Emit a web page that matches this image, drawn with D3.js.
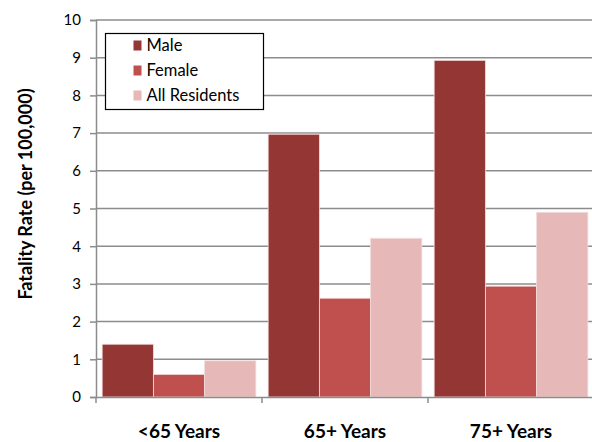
<!DOCTYPE html>
<html>
<head>
<meta charset="utf-8">
<script src="https://cdn.jsdelivr.net/npm/d3@7"></script>
<style>
  html, body { margin: 0; padding: 0; background: #fff; }
  svg { display: block; font-family: Lato, "Open Sans", sans-serif; }
</style>
</head>
<body>
<div id="chart"></div>
<script>
const categories = ['<65 Years', '65+ Years', '75+ Years'];
const seriesNames = ['Male', 'Female', 'All Residents'];
const maleValues = [1.4, 6.97, 8.93];
const femaleValues = [0.6, 2.62, 2.94];
const allValues = [0.96, 4.21, 4.9];
const yTicks = [0, 1, 2, 3, 4, 5, 6, 7, 8, 9, 10];

const colors = ['#943634', '#c0504d', '#e6b9b8'];
const width = 592;
const height = 442;

const series = [maleValues, femaleValues, allValues];

const svg = d3.select('#chart')
    .append('svg')
    .attr('width', width)
    .attr('height', height);

const x = d3.scaleBand()
    .domain(categories)
    .range([96, 594])
    .paddingInner(0)
    .paddingOuter(0);

const y = d3.scaleLinear()
    .domain([0, 10])
    .range([397, 20]);

// gridlines
svg.append('g')
    .selectAll('line')
    .data(yTicks.filter((t) => t > 0))
    .enter()
    .append('line')
    .attr('x1', 96)
    .attr('x2', width)
    .attr('y1', (d) => y(d))
    .attr('y2', (d) => y(d))
    .attr('stroke', '#8c8c8c')
    .attr('stroke-width', 1.5);

// bars
const inner = d3.scaleBand()
    .domain(seriesNames)
    .range([0, x.bandwidth()])
    .paddingOuter(0.12)
    .paddingInner(0);

categories.forEach((cat, ci) => {
    const g = svg.append('g').attr('transform', `translate(${x(cat)},0)`);
    g.selectAll('rect')
        .data(seriesNames.map((name, si) => ({ name, value: series[si][ci], color: colors[si] })))
        .enter()
        .append('rect')
        .attr('x', (d) => inner(d.name))
        .attr('width', inner.bandwidth())
        .attr('y', (d) => y(d.value))
        .attr('height', (d) => y(0) - y(d.value))
        .attr('fill', (d) => d.color)
        .attr('stroke', '#f2dcdb')
        .attr('stroke-width', 0.8);
});

// y axis
const yAxis = svg.append('g')
    .attr('transform', 'translate(96,0)')
    .call(d3.axisLeft(y).tickValues(yTicks).tickSize(6).tickPadding(9));
yAxis.select('.domain').attr('stroke', '#8c8c8c').attr('stroke-width', 1.5);
yAxis.selectAll('.tick line').attr('stroke', '#8c8c8c').attr('stroke-width', 1.5);
yAxis.selectAll('.tick text')
    .attr('fill', '#000')
    .style('font-size', '15px')
    .style('font-family', 'Lato, "Open Sans", sans-serif');

// x axis
const xAxis = svg.append('g')
    .attr('transform', `translate(0,${y(0)})`)
    .call(d3.axisBottom(x).tickSize(0).tickPadding(28));
xAxis.select('.domain').attr('stroke', '#8c8c8c').attr('stroke-width', 1.5);
xAxis.selectAll('.tick text')
    .attr('fill', '#000')
    .style('font-size', '19px')
    .style('font-weight', 'bold')
    .style('font-family', 'Lato, "Open Sans", sans-serif');

// category boundary ticks
svg.append('g')
    .selectAll('line')
    .data(categories)
    .enter()
    .append('line')
    .attr('x1', (d) => x(d))
    .attr('x2', (d) => x(d))
    .attr('y1', y(0))
    .attr('y2', y(0) + 6)
    .attr('stroke', '#8c8c8c')
    .attr('stroke-width', 1.5);

// y title
svg.append('text')
    .attr('transform', 'translate(32,194) rotate(-90)')
    .attr('text-anchor', 'middle')
    .style('font-size', '18px')
    .style('font-weight', 'bold')
    .text('Fatality Rate (per 100,000)');

// legend
const legend = svg.append('g').attr('transform', 'translate(105.5,33.5)');
legend.append('rect')
    .attr('width', 158)
    .attr('height', 76)
    .attr('fill', '#fff')
    .attr('stroke', '#000')
    .attr('stroke-width', 1.2);

seriesNames.forEach((name, i) => {
    const row = legend.append('g').attr('transform', `translate(28,${12 + i * 25})`);
    row.append('rect')
        .attr('x', 0)
        .attr('y', -5)
        .attr('width', 8)
        .attr('height', 10)
        .attr('fill', colors[i]);
    row.append('text')
        .attr('x', 13)
        .attr('y', 5.5)
        .style('font-size', '16.5px')
        .text(name);
});
</script>
</body>
</html>
